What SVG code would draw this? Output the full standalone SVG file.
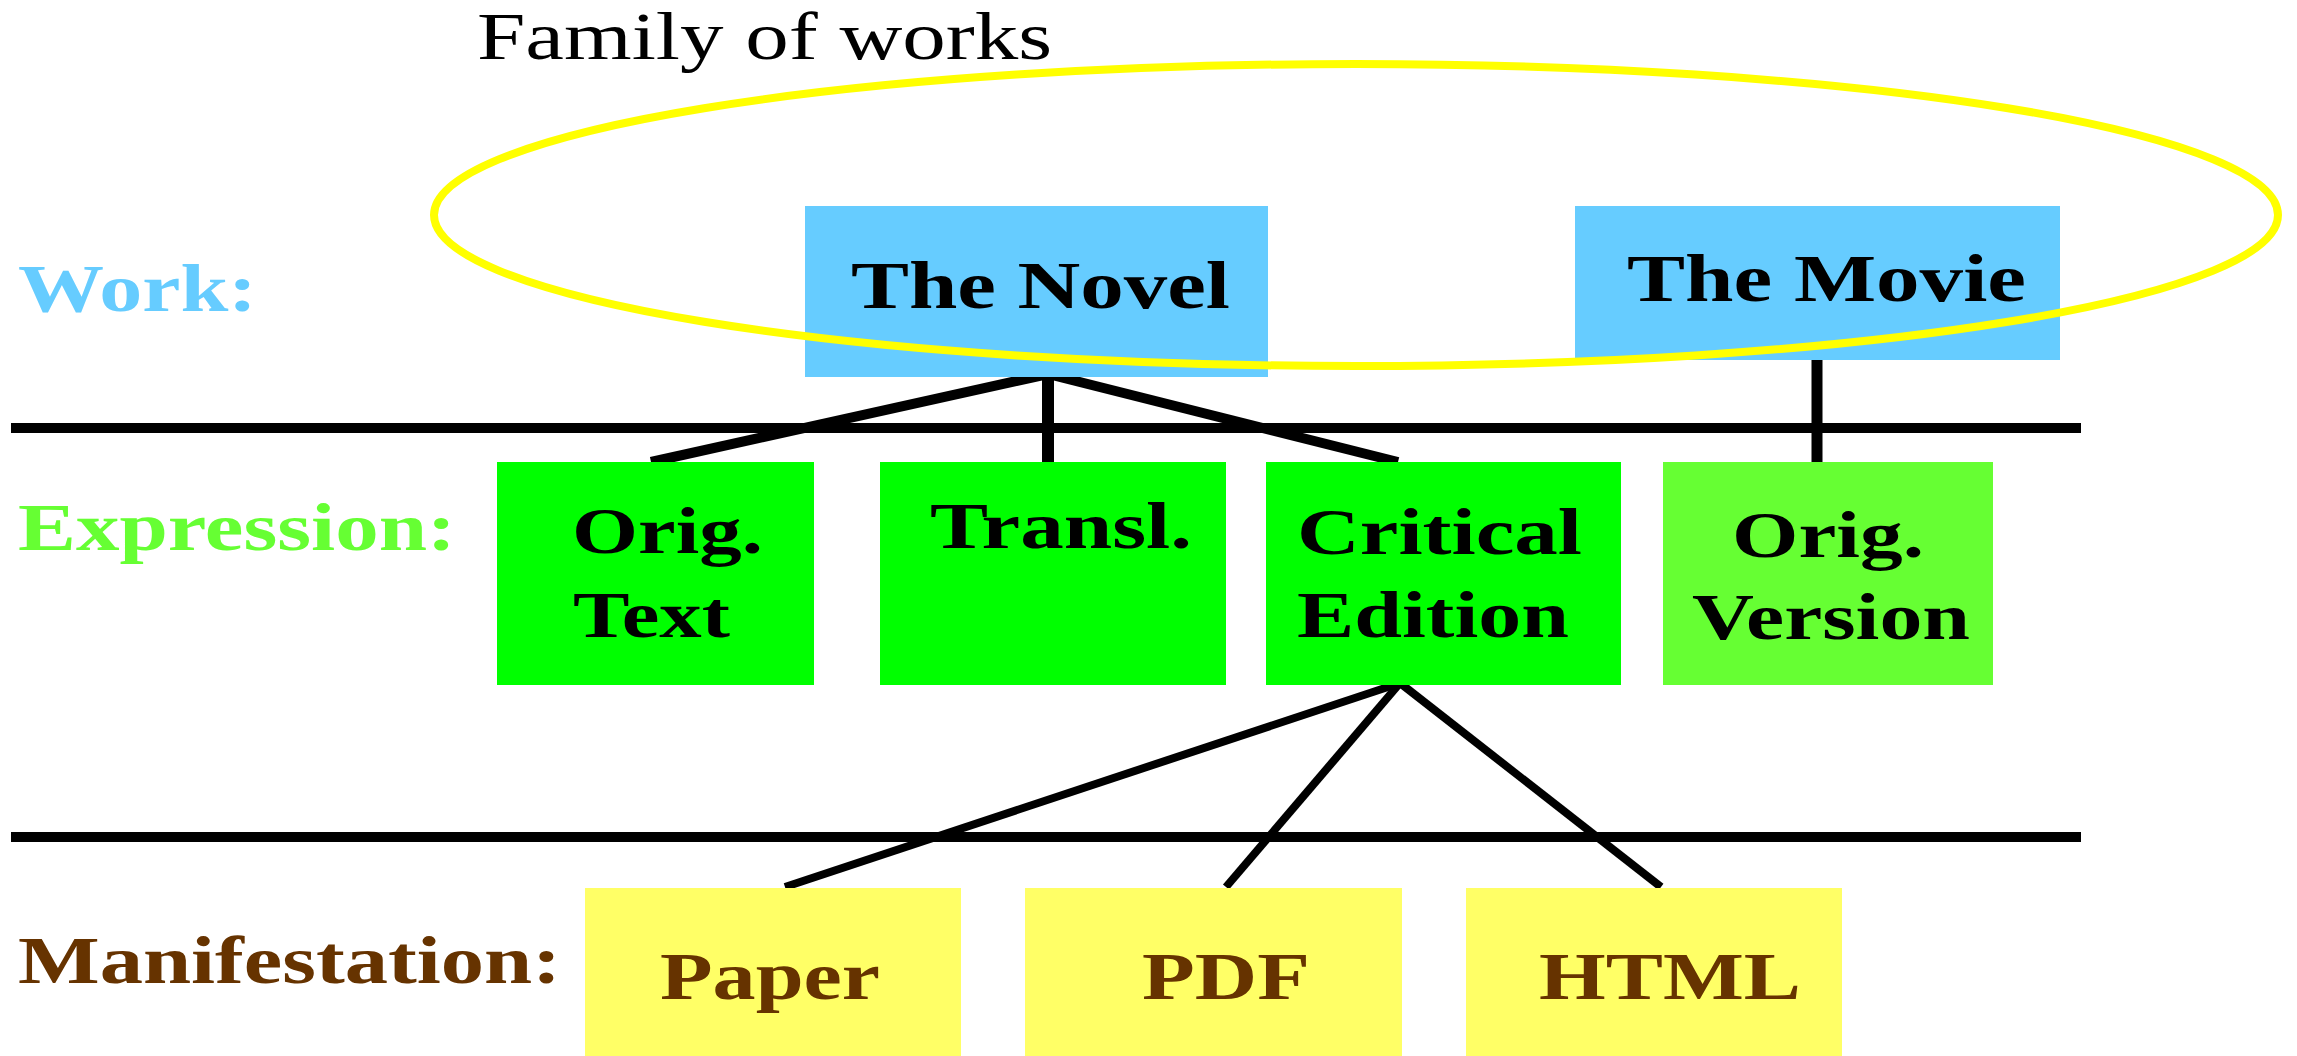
<svg xmlns="http://www.w3.org/2000/svg" width="2297" height="1056" viewBox="0 0 2297 1056">
<style>
text{font-family:"Liberation Serif","Times New Roman",serif;font-weight:bold;}
.lbl{font-size:68px;}
.box{font-size:66px;fill:#000;}
.man{font-size:68px;fill:#663300;}
.work{fill:#66CCFF;}
.expr{fill:#00FF00;}
.expr2{fill:#66FF33;}
.manf{fill:#FFFF66;}
.rule{stroke:#000;stroke-width:10;}
.con{stroke:#000;fill:none;stroke-linecap:butt;}
</style>
<rect width="2297" height="1056" fill="#fff"/>
<g id="levels">
<line class="rule" x1="11" y1="428" x2="2081" y2="428"/>
<line class="rule" x1="11" y1="837" x2="2081" y2="837"/>
<text class="lbl" x="18" y="311" fill="#66CCFF" textLength="239" lengthAdjust="spacingAndGlyphs">Work:</text>
<text class="lbl" x="18" y="550" fill="#66FF33" textLength="438" lengthAdjust="spacingAndGlyphs">Expression:</text>
<text class="lbl" x="18" y="983" fill="#663300" textLength="543" lengthAdjust="spacingAndGlyphs">Manifestation:</text>
</g>
<g id="connectors">
<line class="con" stroke-width="10" x1="1048" y1="374" x2="651" y2="462"/>
<line class="con" stroke-width="12" x1="1048" y1="373" x2="1048" y2="463"/>
<line class="con" stroke-width="10" x1="1048" y1="374" x2="1398" y2="462"/>
<line class="con" stroke-width="11" x1="1817" y1="359" x2="1817" y2="462"/>
<line class="con" stroke-width="8" x1="1400" y1="683" x2="785" y2="887"/>
<line class="con" stroke-width="8" x1="1400" y1="683" x2="1226" y2="887"/>
<line class="con" stroke-width="8" x1="1400" y1="683" x2="1661" y2="887"/>
</g>
<g id="novel">
<rect class="work" x="805" y="206" width="463" height="171"/>
<text class="lbl" x="851" y="308" textLength="379" lengthAdjust="spacingAndGlyphs">The Novel</text>
</g>
<g id="movie">
<rect class="work" x="1575" y="206" width="485" height="154"/>
<text class="lbl" x="1627" y="301" textLength="399" lengthAdjust="spacingAndGlyphs">The Movie</text>
</g>
<g id="orig-text">
<rect class="expr" x="497" y="462" width="317" height="223"/>
<text class="box" x="572" y="553" textLength="191" lengthAdjust="spacingAndGlyphs">Orig.</text>
<text class="box" x="573" y="637" textLength="157" lengthAdjust="spacingAndGlyphs">Text</text>
</g>
<g id="transl">
<rect class="expr" x="880" y="462" width="346" height="223"/>
<text class="box" x="930" y="548" textLength="262" lengthAdjust="spacingAndGlyphs">Transl.</text>
</g>
<g id="critical-edition">
<rect class="expr" x="1266" y="462" width="355" height="223"/>
<text class="box" x="1297" y="554" textLength="285" lengthAdjust="spacingAndGlyphs">Critical</text>
<text class="box" x="1297" y="637" textLength="272" lengthAdjust="spacingAndGlyphs">Edition</text>
</g>
<g id="orig-version">
<rect class="expr2" x="1663" y="462" width="330" height="223"/>
<text class="box" x="1732" y="557" textLength="192" lengthAdjust="spacingAndGlyphs">Orig.</text>
<text class="box" x="1692" y="639" textLength="278" lengthAdjust="spacingAndGlyphs">Version</text>
</g>
<g id="paper">
<rect class="manf" x="585" y="888" width="376" height="168"/>
<text class="man" x="660" y="999" textLength="220" lengthAdjust="spacingAndGlyphs">Paper</text>
</g>
<g id="pdf">
<rect class="manf" x="1025" y="888" width="377" height="168"/>
<text class="man" x="1142" y="999" textLength="168" lengthAdjust="spacingAndGlyphs">PDF</text>
</g>
<g id="html">
<rect class="manf" x="1466" y="888" width="376" height="168"/>
<text class="man" x="1539" y="999" textLength="262" lengthAdjust="spacingAndGlyphs">HTML</text>
</g>
<g id="family-of-works">
<ellipse cx="1356" cy="215" rx="922" ry="151" fill="none" stroke="#FFFF00" stroke-width="8"/>
<text x="477" y="59" font-size="68" style="font-weight:normal" fill="#000" textLength="575" lengthAdjust="spacingAndGlyphs">Family of works</text>
</g>
</svg>
